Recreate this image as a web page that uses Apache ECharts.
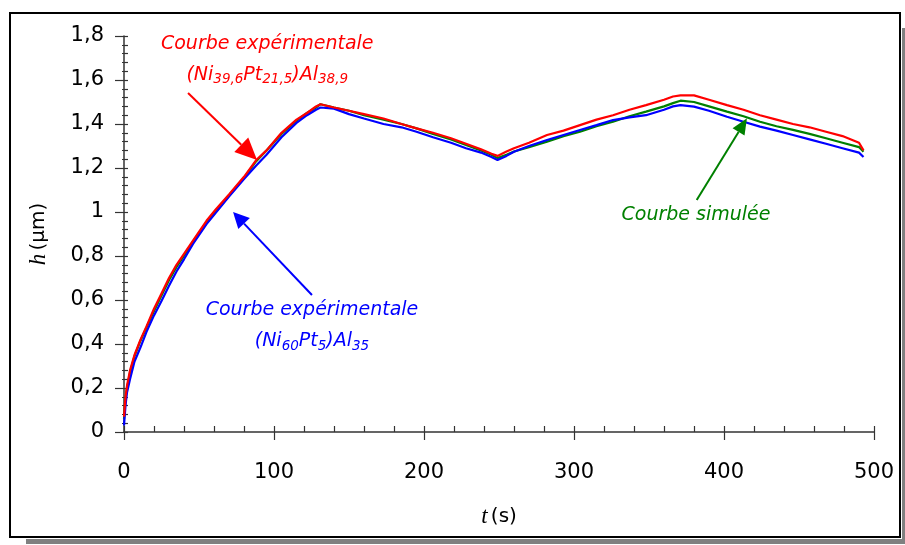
<!DOCTYPE html>
<html>
<head>
<meta charset="utf-8">
<script src="https://cdn.jsdelivr.net/npm/echarts@6/dist/echarts.min.js"></script>
<style>
html,body{margin:0;padding:0;background:#fff;}
#c{width:905px;height:545px;}
</style>
</head>
<body>
<div id="c"></div>
<script>
// time axis (s)
const tValues = [0, 1, 2, 4, 7, 11, 15, 20, 25, 30, 35, 40, 46, 55, 61, 70, 80, 88, 95, 105, 115, 122, 128, 131, 140, 150, 160, 173, 185, 195, 206, 218, 228, 238, 245, 249, 255, 260, 270, 282, 293, 304, 315, 326, 337, 348, 360, 366, 371, 380, 390, 402, 413, 424, 435, 446, 457, 468, 479, 490, 493];
// h (µm) — experimental (Ni39,6Pt21,5)Al38,9
const hRed = [0.07, 0.16, 0.21, 0.28, 0.35, 0.42, 0.48, 0.56, 0.63, 0.70, 0.76, 0.81, 0.87, 0.96, 1.01, 1.08, 1.16, 1.235, 1.28, 1.36, 1.42, 1.45, 1.48, 1.49, 1.475, 1.46, 1.445, 1.425, 1.40, 1.38, 1.36, 1.335, 1.31, 1.285, 1.265, 1.255, 1.275, 1.29, 1.315, 1.35, 1.37, 1.395, 1.42, 1.44, 1.465, 1.486, 1.51, 1.525, 1.53, 1.53, 1.51, 1.486, 1.465, 1.44, 1.42, 1.40, 1.385, 1.365, 1.345, 1.315, 1.28];
// h (µm) — simulated
const hGreen = [0.06, 0.15, 0.20, 0.27, 0.345, 0.415, 0.475, 0.55, 0.62, 0.69, 0.75, 0.80, 0.865, 0.95, 1.00, 1.075, 1.155, 1.23, 1.28, 1.355, 1.415, 1.45, 1.475, 1.49, 1.475, 1.46, 1.44, 1.42, 1.40, 1.38, 1.355, 1.33, 1.305, 1.28, 1.26, 1.245, 1.26, 1.275, 1.295, 1.32, 1.345, 1.365, 1.39, 1.41, 1.435, 1.456, 1.48, 1.495, 1.506, 1.50, 1.48, 1.456, 1.435, 1.41, 1.39, 1.373, 1.355, 1.335, 1.315, 1.295, 1.274];
// h (µm) — experimental (Ni60Pt5)Al35
const hBlue = [0.03, 0.12, 0.18, 0.24, 0.32, 0.385, 0.455, 0.53, 0.595, 0.665, 0.73, 0.785, 0.855, 0.945, 0.995, 1.07, 1.15, 1.21, 1.26, 1.34, 1.405, 1.44, 1.465, 1.475, 1.47, 1.445, 1.425, 1.40, 1.385, 1.365, 1.34, 1.315, 1.29, 1.27, 1.25, 1.236, 1.255, 1.274, 1.30, 1.327, 1.35, 1.373, 1.395, 1.418, 1.43, 1.44, 1.465, 1.48, 1.486, 1.479, 1.46, 1.433, 1.41, 1.388, 1.37, 1.35, 1.33, 1.31, 1.29, 1.27, 1.25];

const xTicks = [0, 100, 200, 300, 400, 500];
const yTicks = [0, 0.2, 0.4, 0.6, 0.8, 1, 1.2, 1.4, 1.6, 1.8];

function pairs(ys){ return tValues.map((t,i)=>[t, ys[i]]); }

const chart = echarts.init(document.getElementById('c'), null, {renderer:'canvas'});
const axisCol = '#333';
const labelFont = 'DejaVu Sans';
const nameRich = {
  it:{fontFamily:'Liberation Serif', fontStyle:'italic', fontSize:23, color:'#000'},
  n:{fontFamily:labelFont, fontSize:20, color:'#000'}
};

chart.setOption({
  animation:false,
  backgroundColor:'#fff',
  grid:{left:124, right:31, top:36, bottom:113, containLabel:false, outerBoundsMode:'none'},
  xAxis:[
    {type:'value', min:xTicks[0], max:xTicks[xTicks.length-1], interval:100, position:'bottom',
     axisLine:{lineStyle:{color:axisCol, width:1.5}},
     axisTick:{inside:true, length:6, lineStyle:{color:axisCol, width:1.2}},
     minorTick:{show:true, splitNumber:5, length:6, lineStyle:{color:axisCol, width:1.2}},
     splitLine:{show:false},
     axisLabel:{margin:30, fontFamily:labelFont, fontSize:21, color:'#000'},
     name:'{it|t} {n|(s)}', nameLocation:'middle', nameGap:73,
     nameTextStyle:{rich:nameRich}},
    {type:'value', min:xTicks[0], max:xTicks[xTicks.length-1], interval:100, position:'bottom',
     axisLine:{show:false},
     axisTick:{inside:false, length:8, lineStyle:{color:axisCol, width:1.2}},
     splitLine:{show:false}, axisLabel:{show:false}}
  ],
  yAxis:[
    {type:'value', min:yTicks[0], max:yTicks[yTicks.length-1], interval:0.2, position:'left',
     axisLine:{lineStyle:{color:axisCol, width:1.5}},
     axisTick:{inside:true, length:4, lineStyle:{color:axisCol, width:1.2}},
     minorTick:{show:true, splitNumber:5, length:4, lineStyle:{color:axisCol, width:1.2}},
     splitLine:{show:false},
     axisLabel:{margin:20, fontFamily:labelFont, fontSize:21, color:'#000',
       formatter:v=>String(Math.round(v*10)/10).replace('.', ',')},
     name:'{it|h} {n|(µm)}', nameLocation:'middle', nameRotate:90, nameGap:74,
     nameTextStyle:{rich:nameRich}},
    {type:'value', min:yTicks[0], max:yTicks[yTicks.length-1], interval:0.2, position:'left',
     axisLine:{show:false},
     axisTick:{inside:false, length:9, lineStyle:{color:axisCol, width:1.2}},
     minorTick:{show:true, splitNumber:5, length:2, lineStyle:{color:axisCol, width:1.2}},
     splitLine:{show:false}, axisLabel:{show:false}}
  ],
  series:[
    {name:'Courbe simulée', type:'line', data:pairs(hGreen), showSymbol:false, symbol:'none',
     lineStyle:{color:'#008000', width:2.2}, xAxisIndex:0, yAxisIndex:0, z:2},
    {name:'(Ni60Pt5)Al35', type:'line', data:pairs(hBlue), showSymbol:false, symbol:'none',
     lineStyle:{color:'#0000ff', width:2.2}, xAxisIndex:0, yAxisIndex:0, z:3},
    {name:'(Ni39,6Pt21,5)Al38,9', type:'line', data:pairs(hRed), showSymbol:false, symbol:'none',
     lineStyle:{color:'#ff0000', width:2.2}, xAxisIndex:0, yAxisIndex:0, z:4}
  ]
});

// annotation texts: lines made of [text, isSubscript] pieces
const redLines = [[['Courbe expérimentale', false]],
  [['(Ni', false], ['39,6', true], ['Pt', false], ['21,5', true], [')Al', false], ['38,9', true]]];
const blueLines = [[['Courbe expérimentale', false]],
  [['(Ni', false], ['60', true], ['Pt', false], ['5', true], [')Al', false], ['35', true]]];
const greenLines = [[['Courbe simulée', false]]];

// annotations anchored in data coordinates [t, h]
const annotations = [
  {color:'#ff0000', lines:redLines, pos:[95.5, 1.764], lineGap:[0, 0.14],
   arrow:{from:[42.7, 1.541], to:[88.7, 1.236], head:22, half:10}},
  {color:'#0000ff', lines:blueLines, pos:[125.3, 0.553], lineGap:[0, 0.14],
   arrow:{from:[125.3, 0.623], to:[72.7, 1.0], head:16, half:8}},
  {color:'#008000', lines:greenLines, pos:[381.3, 0.986], lineGap:[0, 0],
   arrow:{from:[381.8, 1.055], to:[415.3, 1.426], head:16, half:7}}
];

const annFamily = '"DejaVu Sans"';
const mainSize = 19, subSize = 13.5;
const measureCtx = document.createElement('canvas').getContext('2d');
function measure(txt, size){
  measureCtx.font = 'italic ' + size + 'px ' + annFamily;
  return measureCtx.measureText(txt).width;
}
function toPx(p){ return chart.convertToPixel({xAxisIndex:0, yAxisIndex:0}, p); }

const graphics = [];
// frame shadow + border
graphics.push({type:'rect', shape:{x:26, y:539, width:879, height:5}, style:{fill:'#808080'}, z:0, silent:true});
graphics.push({type:'rect', shape:{x:902, y:28, width:3, height:516}, style:{fill:'#808080'}, z:0, silent:true});
graphics.push({type:'rect', shape:{x:10, y:13, width:890, height:524}, style:{fill:'none', stroke:'#000', lineWidth:2}, z:1, silent:true});

annotations.forEach(a=>{
  const c0 = toPx(a.pos);
  const lineStepPx = toPx([a.pos[0], a.pos[1] - a.lineGap[1]])[1] - c0[1];
  a.lines.forEach((pieces, li)=>{
    const cy = c0[1] + li * lineStepPx;
    const widths = pieces.map(p=>measure(p[0], p[1] ? subSize : mainSize));
    const total = widths.reduce((s,w)=>s+w, 0);
    let x = c0[0] - total/2;
    pieces.forEach((p, i)=>{
      graphics.push({type:'text', x:x, y: p[1] ? cy + 5 : cy, z:10, silent:true,
        style:{text:p[0], align:'left', verticalAlign:'middle', fill:a.color,
          fontFamily:'DejaVu Sans', fontStyle:'italic', fontSize: p[1] ? subSize : mainSize}});
      x += widths[i];
    });
  });
  const p0 = toPx(a.arrow.from), p1 = toPx(a.arrow.to);
  const dx = p1[0]-p0[0], dy = p1[1]-p0[1];
  const L = Math.hypot(dx, dy), ux = dx/L, uy = dy/L;
  const bx = p1[0]-ux*a.arrow.head, by = p1[1]-uy*a.arrow.head;
  graphics.push({type:'line', z:10, silent:true, shape:{x1:p0[0], y1:p0[1], x2:bx, y2:by},
    style:{stroke:a.color, lineWidth:2}});
  graphics.push({type:'polygon', z:10, silent:true,
    shape:{points:[[p1[0],p1[1]], [bx - uy*a.arrow.half, by + ux*a.arrow.half], [bx + uy*a.arrow.half, by - ux*a.arrow.half]]},
    style:{fill:a.color}});
});

chart.setOption({graphic:graphics});
</script>
</body>
</html>
